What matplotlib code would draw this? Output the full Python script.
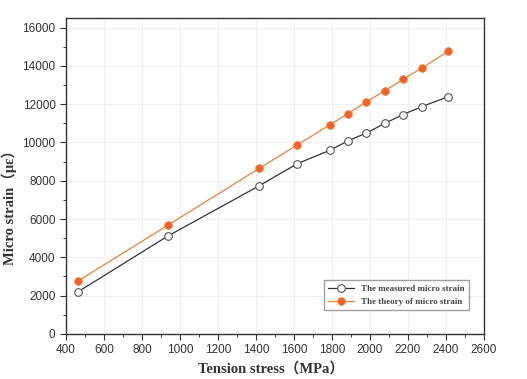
import numpy as np
import matplotlib.pyplot as plt
from matplotlib.ticker import MultipleLocator

# tension stress (MPa)
stress = [465, 935, 1417, 1618, 1790, 1885, 1981, 2078, 2174, 2274, 2411]
# measured and theoretical micro strain
measured = [2210, 5105, 7737, 8895, 9596, 10088, 10491, 11000, 11456, 11877, 12386]
theory = [2774, 5668, 8647, 9877, 10930, 11509, 12123, 12702, 13298, 13895, 14754]

label_measured = 'The measured micro strain'
label_theory = 'The theory of micro strain'

fig = plt.figure(figsize=(5.27, 3.79), dpi=100)
ax = fig.add_axes([0.1252, 0.119, 0.7932, 0.8335])

ax.plot(stress, measured, c='#333333', lw=0.9, marker='o', ms=5.5,
        mfc='white', mec='#555555', mew=0.8, label=label_measured)
ax.plot(stress, theory, c='#e8823a', lw=0.9, marker='o', ms=5.5,
        mfc='#f0622a', mec='#e8823a', mew=0.6, label=label_theory)

ax.set_xlim(400, 2600)
ax.set_ylim(0, 16500)
ax.xaxis.set_major_locator(MultipleLocator(200))
ax.xaxis.set_minor_locator(MultipleLocator(100))
ax.yaxis.set_major_locator(MultipleLocator(2000))
ax.yaxis.set_minor_locator(MultipleLocator(1000))
ax.grid(True, which='major', color='#f0f0f0', lw=0.8)
ax.set_axisbelow(True)

ax.tick_params(which='both', direction='out', top=False, right=False,
               colors='#333333', labelcolor='#333333')
ax.tick_params(which='major', length=4, width=0.8, labelsize=8.5)
ax.tick_params(which='minor', length=2, width=0.7)
for t in ax.get_xticklabels() + ax.get_yticklabels():
    t.set_family('Liberation Sans')
for s in ax.spines.values():
    s.set_color('#333333')
    s.set_linewidth(1.0)

ax.set_xlabel('Tension stress（MPa）', family=['Liberation Serif', 'Noto Sans CJK SC'],
              fontweight='bold', fontsize=10.5, color='#333333')
ax.set_ylabel('Micro strain（με）', family=['Liberation Serif', 'Noto Sans CJK SC'],
              fontweight='bold', fontsize=10.5, color='#333333')
ax.xaxis.set_label_coords(0.49, -0.088)
ax.yaxis.set_label_coords(-0.117, 0.41)

leg = ax.legend(loc='lower right', bbox_to_anchor=(0.975, 0.06),
                prop={'family': 'Liberation Serif', 'weight': 'bold', 'size': 6.5},
                frameon=True, fancybox=False, edgecolor='#888888',
                handlelength=2.8, borderpad=0.5, labelspacing=0.5)
for t in leg.get_texts():
    t.set_color('#444444')

fig.savefig('out.png', dpi=100)
